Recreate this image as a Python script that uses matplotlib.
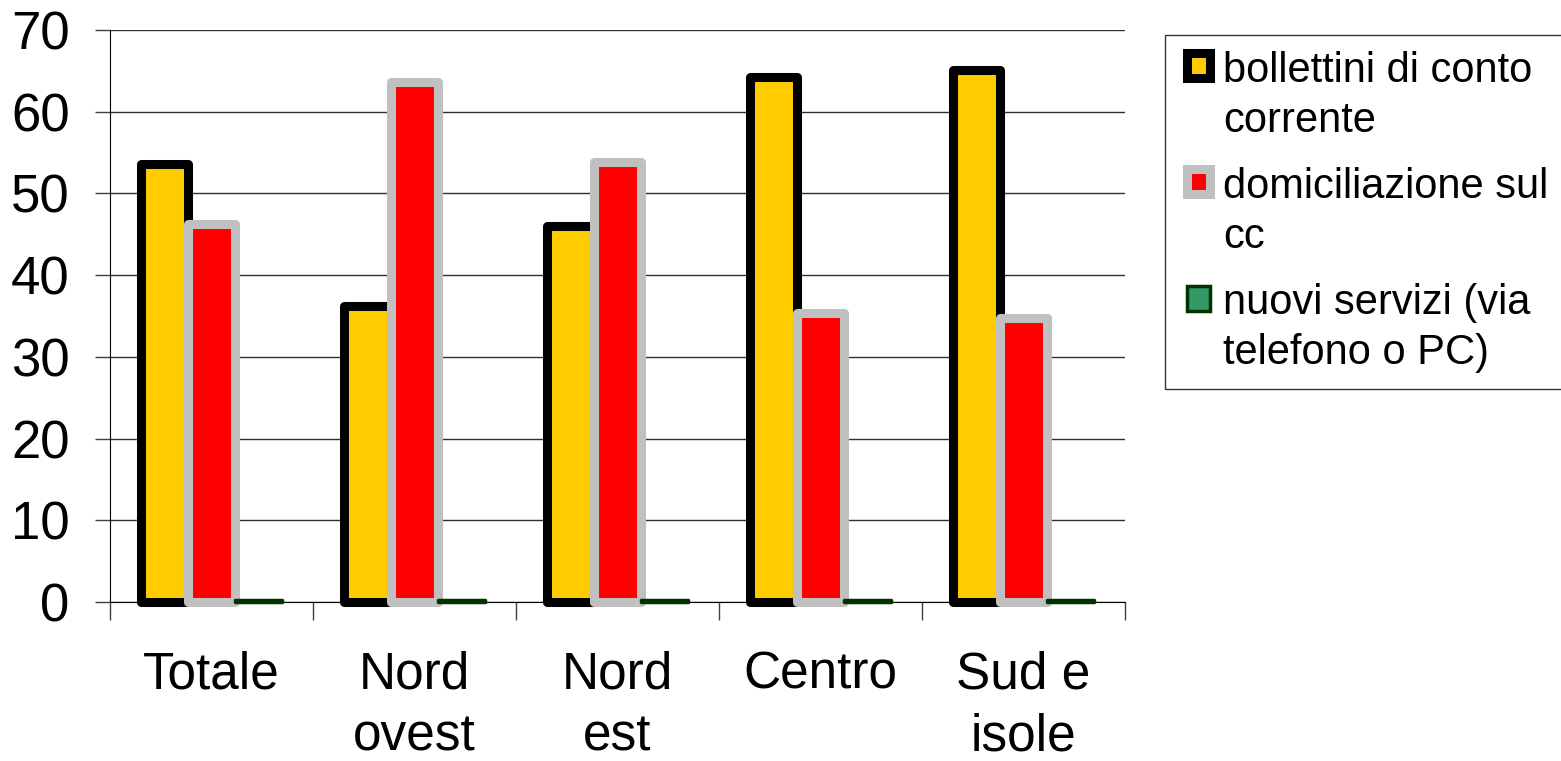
import matplotlib
matplotlib.use("Agg")
import matplotlib.pyplot as plt
from matplotlib.patches import Rectangle
from matplotlib.legend_handler import HandlerPatch
import numpy as np

plt.rcParams['font.family'] = ['Liberation Sans', 'DejaVu Sans']

categorie = ["Totale", "Nord\novest", "Nord\nest", "Centro", "Sud e\nisole"]
bollettini = [53.6, 36.2, 46.0, 64.3, 65.1]
domiciliazione = [46.2, 63.6, 53.8, 35.4, 34.7]
nuovi_servizi = [0.3, 0.3, 0.3, 0.3, 0.3]
etichette = ["bollettini di conto\ncorrente",
             "domiciliazione sul\ncc",
             "nuovi servizi (via\ntelefono o PC)"]
y_ticks = [0, 10, 20, 30, 40, 50, 60, 70]

fig = plt.figure(figsize=(15.61, 7.61), dpi=100)
ax = fig.add_axes([110 / 1561, 1 - 602 / 761, 1015 / 1561, 572 / 761])

x = np.arange(len(categorie))
w = 0.23
b1 = ax.bar(x - w, bollettini, w, color='#FFCC00', edgecolor='black',
            linewidth=6.5, joinstyle='round', clip_on=False, zorder=3)
b2 = ax.bar(x, domiciliazione, w, color='#FF0000', edgecolor='#C0C0C0',
            linewidth=6.5, joinstyle='round', clip_on=False, zorder=3)
b3 = ax.bar(x + w, nuovi_servizi, w, color='#339966', edgecolor='#003300',
            linewidth=2.5, joinstyle='round', clip_on=False, zorder=3)

ax.set_xlim(-0.5, len(categorie) - 0.5)
ax.set_ylim(0, 70)
ax.set_yticks(y_ticks)
ax.tick_params(axis='y', labelsize=38, length=11, width=1, pad=18, color='#404040')
ax.yaxis.grid(True, color='#303030', linewidth=1)
ax.set_axisbelow(True)

ax.set_xticks(np.arange(len(categorie) + 1) - 0.5)
ax.set_xticklabels([])
ax.tick_params(axis='x', which='major', length=13, width=1, color='#404040')
ax.set_xticks(x, minor=True)
ax.set_xticklabels(categorie, minor=True, fontsize=37, linespacing=1.34)
ax.tick_params(axis='x', which='minor', length=0, pad=35)

for s in ['top', 'right']:
    ax.spines[s].set_visible(False)
ax.spines['left'].set_color('black')
ax.spines['bottom'].set_color('black')


def alza_handle(legend, orig_handle, xdescent, ydescent, width, height, fontsize):
    # handle allineato alla prima riga dell'etichetta
    return Rectangle((-xdescent + 0.14 * fontsize, -ydescent + 0.74 * fontsize),
                     width, height)


leg = fig.legend([b1.patches[0], b2.patches[0], b3.patches[0]], etichette,
                 loc='upper left',
                 bbox_to_anchor=(1165 / 1561, 1 - 35 / 761), borderaxespad=0,
                 fontsize=30, frameon=True, fancybox=False, edgecolor='black',
                 handlelength=0.55, handleheight=0.55, handletextpad=0.47,
                 labelspacing=0.63, borderpad=0.38,
                 handler_map={Rectangle: HandlerPatch(patch_func=alza_handle)})
leg.get_frame().set_linewidth(1)
for t in leg.get_texts():
    t.set_linespacing(1.32)

fig.savefig('out.png', dpi=100)
